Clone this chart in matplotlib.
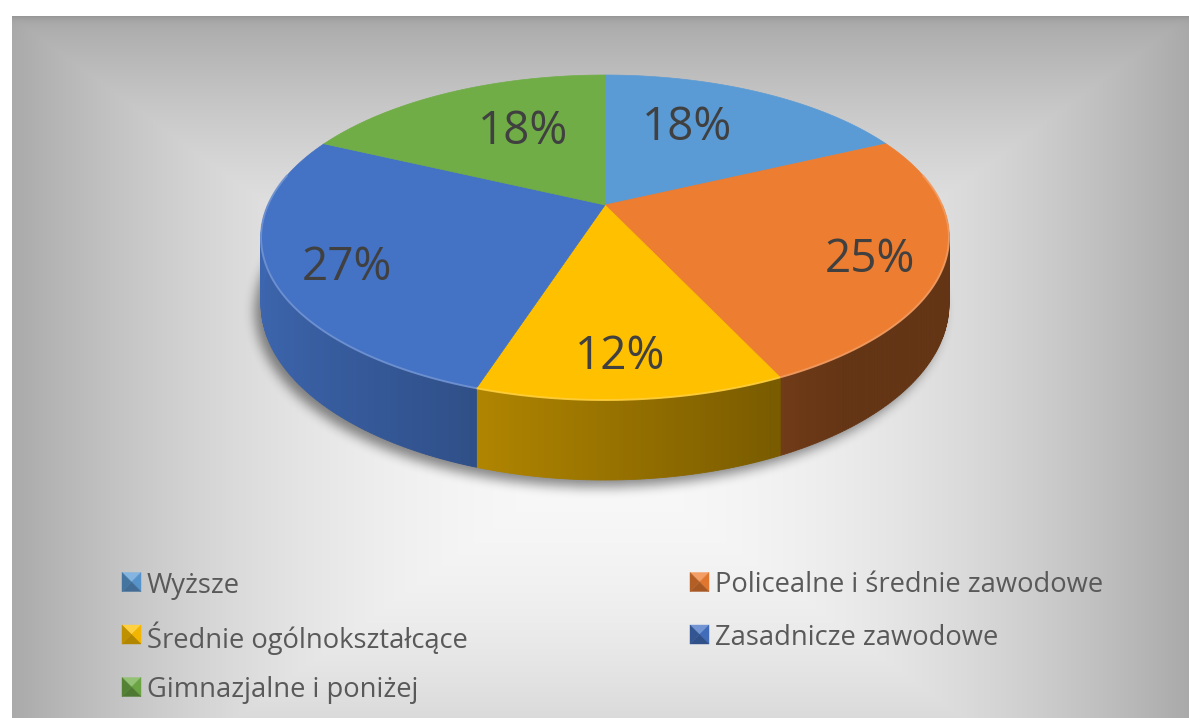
import numpy as np
import matplotlib
matplotlib.use("Agg")
import matplotlib.pyplot as plt
from matplotlib.patches import Polygon
from matplotlib.colors import to_rgb
from matplotlib.path import Path
from matplotlib.font_manager import FontProperties

# ---------------- data ----------------
categories = ["Wyższe", "Policealne i średnie zawodowe", "Średnie ogólnokształcące",
              "Zasadnicze zawodowe", "Gimnazjalne i poniżej"]
values = [18, 25, 12, 27, 18]
colors = ["#5B9BD5", "#ED7D31", "#FFC000", "#4472C4", "#70AD47"]

W, H = 1189, 718
fig = plt.figure(figsize=(W / 100, H / 100), dpi=100)
ax = fig.add_axes([0, 0, 1, 1])
ax.set_xlim(0, W)
ax.set_ylim(H, 0)
ax.axis("off")

# ---------------- background (rectangular path gradient) ----------------
fx0, fy0, fx1, fy1 = 12, 16, W, H
xs = np.arange(fx0, fx1) + 0.5
ys = np.arange(fy0, fy1) + 0.5
XX, YY = np.meshgrid(xs, ys)
cxb, cyb = 600, 450
u = np.abs(XX - cxb) / 589.0
w = np.abs(YY - cyb) / 434.0
v = np.clip(np.maximum(u, w), 0, 1)
g = 0.975 - 0.31 * v ** 2
g = g * (1 - 0.12 * np.exp(-(YY - fy0) / 4.0))
img = np.dstack([g, g, g])
ax.imshow(img, extent=[fx0, fx1, fy1, fy0], aspect="auto", zorder=0, interpolation="bilinear")

# ---------------- pie geometry ----------------
cx, cy = 605, 205
a, b, k = 337.0, 156.0, 0.2
h = 64.0


def proj(t, r=1.0):
    X = r * np.sin(t)
    Y = r * np.cos(t)
    d = 1 + k * Y
    return cx + a * X / d, cy - b * Y / d


def depth(t):
    return h / (1 + k * np.cos(t))


total = float(sum(values))
bounds = np.concatenate([[0], np.cumsum(values)]) / total * 2 * np.pi

# ---------------- shadow under the pie ----------------
tt = np.linspace(0, 2 * np.pi, 400)
sx, sy = proj(tt)
sy = sy + depth(tt)
outline = np.column_stack([sx - 6, sy + 7])
gx0, gx1, gy0, gy1 = 200, 1010, 40, 560
gxs = np.arange(gx0, gx1) + 0.5
gys = np.arange(gy0, gy1) + 0.5
GX, GY = np.meshgrid(gxs, gys)
mask = Path(outline).contains_points(np.column_stack([GX.ravel(), GY.ravel()])).reshape(GX.shape).astype(float)


def box_blur(arr, r):
    out = arr.copy()
    for axis in (0, 1):
        c = np.cumsum(np.pad(out, [(r + 1, r) if i == axis else (0, 0) for i in range(2)], mode="constant"), axis=axis)
        if axis == 0:
            out = (c[2 * r + 1:, :] - c[:-2 * r - 1, :]) / (2 * r + 1)
        else:
            out = (c[:, 2 * r + 1:] - c[:, :-2 * r - 1]) / (2 * r + 1)
    return out


for _ in range(3):
    mask = box_blur(mask, 5)
shadow = np.zeros(mask.shape + (4,))
shadow[..., 3] = 0.45 * mask
ax.imshow(shadow, extent=[gx0, gx1, gy1, gy0], aspect="auto", zorder=1, interpolation="bilinear")


def shade(col, f):
    c = np.array(to_rgb(col))
    return tuple(np.clip(c * f, 0, 1))


def lighten(col, f):
    c = np.array(to_rgb(col))
    return tuple(c + (1 - c) * f)


# ---------------- sides ----------------
front0, front1 = np.pi / 2, 3 * np.pi / 2
for i, col in enumerate(colors):
    t0 = max(bounds[i], front0)
    t1 = min(bounds[i + 1], front1)
    if t1 <= t0:
        continue
    n = max(int((t1 - t0) / np.pi * 300), 2)
    ts = np.linspace(t0, t1, n + 1)
    for j in range(n):
        ta, tb = ts[j], ts[j + 1]
        xa, ya = proj(ta)
        xb, yb = proj(tb)
        Xm = np.sin(0.5 * (ta + tb))
        f = np.clip(0.6 - 0.3 * Xm, 0.42, 1.0)
        c = shade(col, f)
        poly = Polygon([(xa, ya), (xb, yb), (xb, yb + depth(tb)), (xa, ya + depth(ta))],
                       closed=True, facecolor=c, edgecolor=c, linewidth=0.6, zorder=2)
        ax.add_patch(poly)

# ---------------- top surface ----------------
for i, col in enumerate(colors):
    ts = np.linspace(bounds[i], bounds[i + 1], 200)
    px, py = proj(ts)
    pts = np.vstack([[cx, cy], np.column_stack([px, py])])
    ax.add_patch(Polygon(pts, closed=True, facecolor=col, edgecolor=col, linewidth=0.5, zorder=3))
    t0 = max(bounds[i], front0 - 0.2)
    t1 = min(bounds[i + 1], front1 + 0.2)
    if t1 > t0:
        tr = np.linspace(t0, t1, 100)
        rx, ry = proj(tr)
        ax.plot(rx, ry, color=lighten(col, 0.25), lw=1.4, alpha=0.85, zorder=4, solid_capstyle="butt")

# ---------------- data labels ----------------
label_r = [0.55, 0.8, 0.8, 0.8, 0.55]
label_dy = [-11, 10, 4, 10, -7]
label_dx = [-9, -3, -5, 6, 9]
lab_font = FontProperties(family="Open Sans", size=33)
for i, val in enumerate(values):
    mid = 0.5 * (bounds[i] + bounds[i + 1])
    lx, ly = proj(mid, label_r[i])
    ax.text(lx + label_dx[i], ly + label_dy[i], f"{val / total * 100:.0f}%", ha="center", va="center",
            color="#404040", fontproperties=lab_font, zorder=6)

# ---------------- legend (row-wise, two columns) ----------------
leg_font = FontProperties(family="Open Sans", size=19.7)
col_x = [122, 690]
row_y0, row_step = 582, 52.5
msize = 19
for i, (name, col) in enumerate(zip(categories, colors)):
    r, c = divmod(i, 2)
    x0 = col_x[c]
    yc = row_y0 + r * row_step
    y0 = yc - msize / 2
    TL, TR, BR, BL = (x0, y0), (x0 + msize, y0), (x0 + msize, y0 + msize), (x0, y0 + msize)
    C = (x0 + msize / 2, yc)
    tris = [((TL, TR, C), lighten(col, 0.25)),
            ((TR, BR, C), shade(col, 0.95)),
            ((BR, BL, C), shade(col, 0.7)),
            ((BL, TL, C), shade(col, 0.75))]
    for pts, fc in tris:
        ax.add_patch(Polygon(pts, closed=True, facecolor=fc, edgecolor=fc, linewidth=0.3, zorder=7))
    ax.text(x0 + msize + 6, yc, name, ha="left", va="center_baseline", color="#595959",
            fontproperties=leg_font, zorder=7)

fig.savefig("out.png", dpi=100)
